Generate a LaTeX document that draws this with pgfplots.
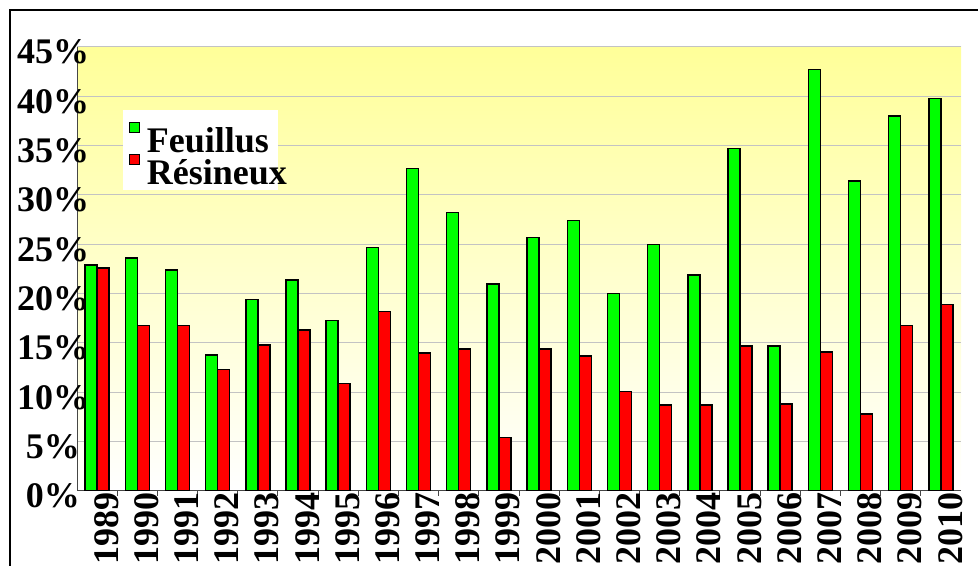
\documentclass[border=0pt]{standalone}
\usepackage{fontspec}
\setmainfont{Liberation Serif}
\usepackage{pgfplots}
\pgfplotsset{compat=1.18}
\definecolor{bgyellow}{RGB}{255,255,153}
\definecolor{gridgray}{RGB}{195,195,195}
\definecolor{axgray}{RGB}{70,70,70}
\definecolor{vert}{RGB}{0,255,0}
\definecolor{rouge}{RGB}{255,0,0}
\begin{document}
\begin{tikzpicture}
\path[use as bounding box] (0,0) rectangle (733.5pt,424.5pt);
\draw[black, line width=0.8pt] (7.5pt,-5pt) -- (7.5pt,417pt) -- (740pt,417pt);
\begin{axis}[
  at={(57.75pt,56.25pt)}, anchor=south west,
  scale only axis, width=663pt, height=333pt,
  ybar=0pt, bar width=9pt,
  xmin=-0.5, xmax=21.5, ymin=0, ymax=45,
  xtick={0,...,21},
  xticklabels={1989,1990,1991,1992,1993,1994,1995,1996,1997,1998,1999,2000,2001,2002,2003,2004,2005,2006,2007,2008,2009,2010},
  ytick={0,5,...,45},
  yticklabel={\pgfmathprintnumber{\tick}\%},
  /pgf/number format/assume math mode=true,
  ticklabel style={font=\bfseries\fontsize{27}{27}\selectfont, inner sep=0pt},
  xticklabel style={xshift=7pt, yshift=-1pt, rotate=90, anchor=east},
  yticklabel style={anchor=center, xshift=-18pt, yshift=-3.75pt},
  axis x line*=bottom, axis y line*=left,
  axis line style={axgray, line width=0.75pt, -},
  tick align=outside, major tick length=0pt,
  minor x tick num=1, minor tick length=3.75pt,
  major tick style={draw=none},
  minor tick style={draw=axgray, line width=0.75pt},
  ymajorgrids, grid style={gridgray, line width=0.75pt},
  axis background/.style={top color=bgyellow, bottom color=white},
  legend image code/.code={%
    \path[draw=none, fill=none] (0pt,0pt) rectangle (12.75pt,28.5pt);
    \draw[#1, line width=0.9pt] (0pt,15pt) rectangle (7.5pt,22.5pt);},
  legend style={at={(axis description cs:0.052,0.858)}, anchor=north west,
    fill=white, draw=none, font=\bfseries\fontsize{27}{27}\selectfont,
    inner xsep=4.5pt, inner ysep=3pt, row sep=-6pt, column sep=0pt,
    nodes={inner sep=0pt}, cells={anchor=base west}},
]
\addplot[fill=vert, draw=black, line width=1.1pt] coordinates {
(0,22.9) (1,23.6) (2,22.4) (3,13.8) (4,19.4) (5,21.4) (6,17.3) (7,24.7) (8,32.7) (9,28.2) (10,21.0)
(11,25.7) (12,27.4) (13,20.0) (14,25.0) (15,21.9) (16,34.7) (17,14.7) (18,42.7) (19,31.4) (20,38.0) (21,39.8)};
\addplot[fill=rouge, draw=black, line width=1.1pt] coordinates {
(0,22.6) (1,16.8) (2,16.8) (3,12.3) (4,14.8) (5,16.3) (6,10.9) (7,18.2) (8,14.0) (9,14.4) (10,5.4)
(11,14.4) (12,13.7) (13,10.1) (14,8.7) (15,8.7) (16,14.7) (17,8.8) (18,14.1) (19,7.8) (20,16.8) (21,18.9)};
\legend{\makebox[94pt][l]{Feuillus}, \makebox[94pt][l]{Résineux}}
\end{axis}
\end{tikzpicture}
\end{document}
